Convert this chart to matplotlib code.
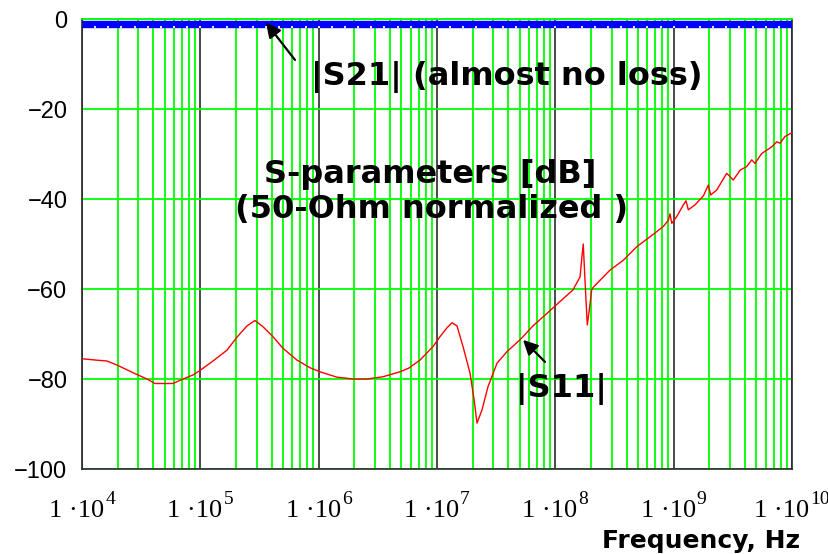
import numpy as np
import matplotlib
matplotlib.use("Agg")
import matplotlib.pyplot as plt
import matplotlib.transforms as mtransforms
from matplotlib.ticker import FixedLocator, LogLocator, NullFormatter, FixedFormatter

# |S11| trace: log10(frequency / Hz) and magnitude in dB
s11_log10f = [4.000, 4.118, 4.211, 4.296, 4.431, 4.549, 4.617, 4.769, 4.845, 4.938,
              4.997, 5.107, 5.225, 5.310, 5.394, 5.462, 5.530, 5.614, 5.699, 5.817,
              5.927, 6.011, 6.155, 6.290, 6.408, 6.544, 6.687, 6.760, 6.856, 6.966,
              7.025, 7.085, 7.127, 7.169, 7.220, 7.279, 7.313, 7.338, 7.380, 7.431,
              7.507, 7.592, 7.701, 7.811, 7.930, 8.039, 8.149, 8.209, 8.225, 8.236,
              8.245, 8.259, 8.270, 8.287, 8.307, 8.321, 8.462, 8.575, 8.688, 8.800,
              8.913, 8.955, 8.969, 8.984, 9.026, 9.082, 9.104, 9.124, 9.180, 9.251,
              9.293, 9.313, 9.364, 9.448, 9.476, 9.504, 9.561, 9.617, 9.660, 9.687,
              9.744, 9.829, 9.871, 9.899, 9.941, 9.998]
s11_db = [-75.5, -75.8, -76.0, -76.9, -78.6, -80.0, -81.0, -81.0, -80.1, -79.1,
          -78.1, -76.0, -73.6, -70.7, -68.2, -67.0, -68.4, -70.6, -73.2, -75.8,
          -77.5, -78.4, -79.6, -80.0, -80.0, -79.5, -78.4, -77.6, -75.8, -72.8,
          -70.6, -68.6, -67.5, -68.2, -72.8, -78.7, -84.5, -89.8, -86.9, -81.7,
          -76.5, -73.9, -71.3, -68.2, -65.4, -62.8, -60.2, -57.3, -52.8, -50.0,
          -55.0, -62.4, -68.0, -64.7, -60.2, -59.6, -55.8, -53.6, -50.6, -48.4,
          -46.1, -44.7, -43.3, -45.4, -43.9, -41.3, -40.4, -42.4, -41.3, -39.3,
          -36.9, -39.1, -38.0, -34.3, -35.0, -35.8, -33.6, -32.8, -31.3, -32.1,
          -29.9, -28.4, -27.3, -27.6, -26.1, -25.3]

# |S21| trace: essentially lossless across the band
s21_log10f = [4.0, 5.0, 6.0, 7.0, 8.0, 9.0, 10.0]
s21_db = [-1.0, -1.0, -1.0, -1.0, -1.0, -1.0, -1.0]

x_decades = [4, 5, 6, 7, 8, 9, 10]
x_tick_mantissa = "1 \u00b710"
y_ticks = [-100, -80, -60, -40, -20, 0]
y_tick_labels = ["\u2212100", "\u221280", "\u221260", "\u221240", "\u221220", "0"]

GREEN = "#00ff00"
FRAME = "#2a2a2a"

W, H = 829, 554
fig = plt.figure(figsize=(W / 100, H / 100), dpi=100)
L, R, T, B = 82, 792, 19, 469
ax = fig.add_axes([L / W, 1 - B / H, (R - L) / W, (B - T) / H])

f11 = [10 ** v for v in s11_log10f]
f21 = [10 ** v for v in s21_log10f]

ax.set_xscale("log")
ax.set_xlim(1e4, 1e10)
ax.set_ylim(-100, 0)

# grid: green minors and horizontals, dark decade lines
ax.xaxis.set_major_locator(FixedLocator([10 ** e for e in x_decades]))
ax.xaxis.set_major_formatter(NullFormatter())
ax.xaxis.set_minor_locator(LogLocator(base=10, subs=np.arange(2, 10), numticks=100))
ax.xaxis.set_minor_formatter(NullFormatter())
ax.yaxis.set_major_locator(FixedLocator(y_ticks))
ax.yaxis.set_major_formatter(FixedFormatter(y_tick_labels))

ax.grid(which="minor", axis="x", color=GREEN, lw=1.3, zorder=1)
ax.grid(which="major", axis="x", color=FRAME, lw=1.2, zorder=1)
ax.grid(which="major", axis="y", color=GREEN, lw=1.3, zorder=1)
ax.set_axisbelow(True)

ax.tick_params(which="both", length=0)
ax.tick_params(axis="y", pad=10.5, labelsize=17)
for lab in ax.get_yticklabels():
    lab.set_fontfamily("Liberation Sans")

for side in ("left", "bottom", "right"):
    ax.spines[side].set_color(FRAME)
    ax.spines[side].set_linewidth(1.2)
ax.spines["top"].set_color(GREEN)
ax.spines["top"].set_linewidth(1.3)

ax.plot(f21, s21_db, color="#0000ff", lw=5.3, solid_capstyle="butt", zorder=3)
ax.plot(f11, s11_db, color="#ff0000", lw=1.0, zorder=4)

# small sweep notches along the lower edge of the |S21| band
ax2 = ax.twiny()
ax2.set_xscale("log")
ax2.set_xlim(1e4, 1e10)
for s in ax2.spines.values():
    s.set_visible(False)
ax2.spines["top"].set_position(("axes", (B - 27.5) / (B - T)))
ax2.xaxis.set_major_locator(FixedLocator(np.logspace(4, 10, 55)[1:-1]))
ax2.xaxis.set_minor_locator(FixedLocator([]))
ax2.xaxis.set_major_formatter(NullFormatter())
ax2.tick_params(axis="x", which="major", direction="out", length=1.6, width=1.4,
                color="#e8e8ff", top=True, bottom=False)

# decade labels "1 ·10^n", drawn as mantissa plus raised exponent
lab_trans = mtransforms.blended_transform_factory(ax.transData, fig.transFigure)
serif = dict(fontfamily="Liberation Serif", color="black")
fig.canvas.draw()
renderer = fig.canvas.get_renderer()
for e in x_decades:
    xv = 10 ** e
    tb = ax.text(xv, 1 - 517 / H, x_tick_mantissa, fontsize=19, ha="left",
                 va="baseline", transform=lab_trans, **serif)
    ts = ax.text(xv, 1 - 503.5 / H, str(e), fontsize=14, ha="left",
                 va="baseline", transform=lab_trans, **serif)
    wb = tb.get_window_extent(renderer).width
    ws = ts.get_window_extent(renderer).width
    start = -(wb + ws + 1) / 2
    tb.set_transform(lab_trans + mtransforms.ScaledTranslation(
        start / fig.dpi, 0, fig.dpi_scale_trans))
    ts.set_transform(lab_trans + mtransforms.ScaledTranslation(
        (start + wb + 1) / fig.dpi, 0, fig.dpi_scale_trans))
    tb.set_clip_on(False)
    ts.set_clip_on(False)

bold = dict(fontfamily="DejaVu Sans", fontweight="bold", color="black")
fig.text(311 / W, 1 - 85 / H, "|S21| (almost no loss)", fontsize=23,
         ha="left", va="baseline", **bold)
fig.text(430 / W, 1 - 183 / H, "S-parameters [dB]", fontsize=23, ha="center",
         va="baseline", **bold)
fig.text(431.5 / W, 1 - 218 / H, "(50-Ohm normalized )", fontsize=23, ha="center",
         va="baseline", **bold)
fig.text(516 / W, 1 - 397 / H, "|S11|", fontsize=23, ha="left", va="baseline", **bold)
fig.text(800 / W, 1 - 548 / H, "Frequency, Hz", fontsize=18, ha="right",
         va="baseline", **bold)

arrow = dict(arrowstyle="-|>", color="black", lw=1.6, mutation_scale=22,
             shrinkA=0, shrinkB=0)
ax.annotate("", xy=(10 ** 5.555, -0.8), xytext=(10 ** 5.80, -9.1),
            arrowprops=arrow, zorder=6)
ax.annotate("", xy=(10 ** 7.727, -71.3), xytext=(10 ** 7.913, -76.2),
            arrowprops=arrow, zorder=6)

fig.savefig("out.png", dpi=100)
